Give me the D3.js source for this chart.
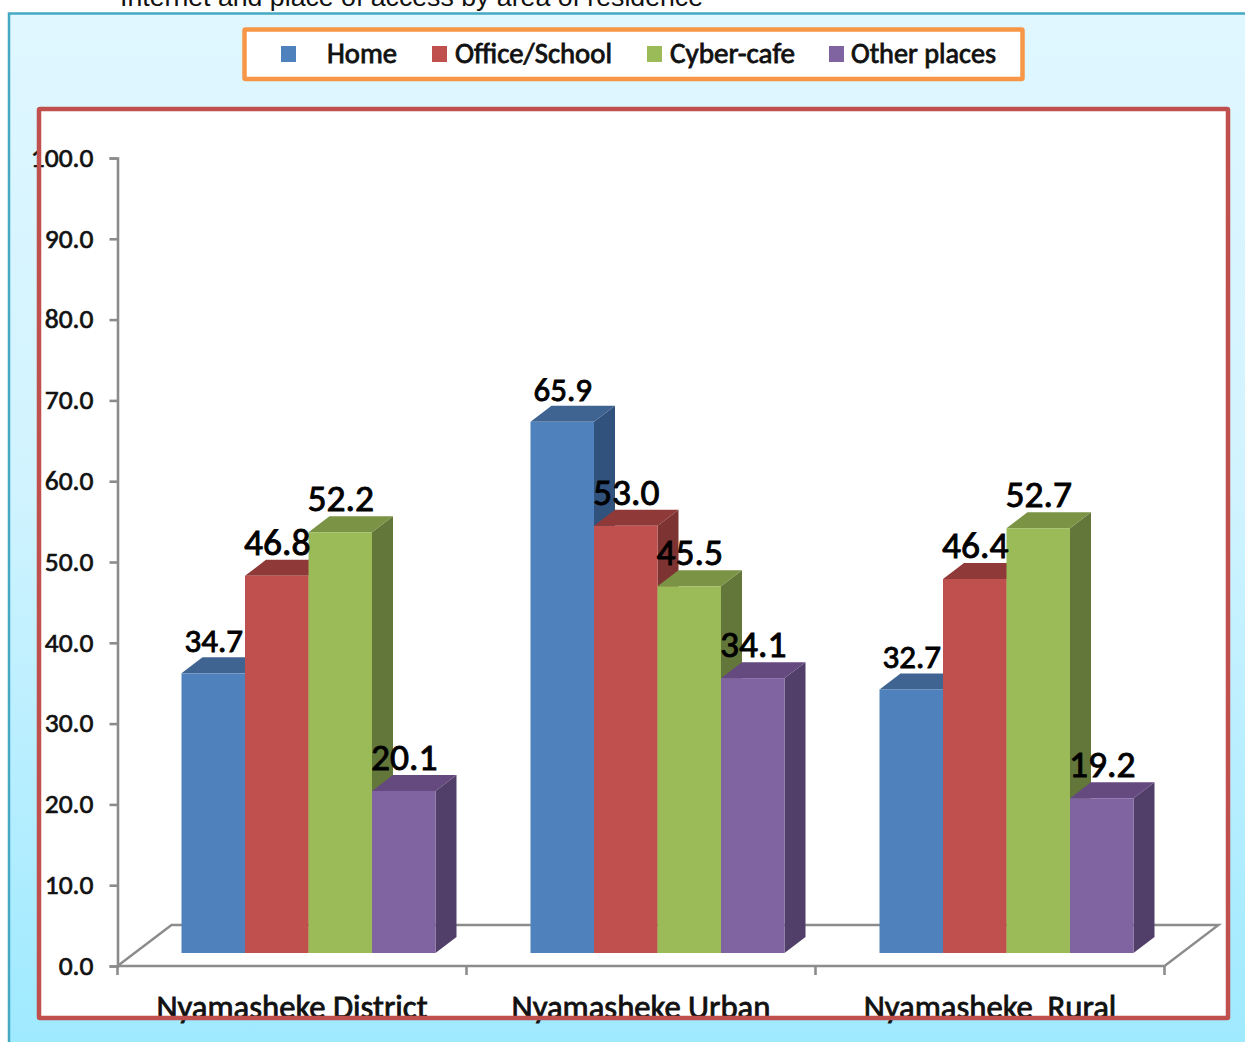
<!DOCTYPE html>
<html><head><meta charset="utf-8">
<script src="https://cdn.jsdelivr.net/npm/d3@7"></script>
<style>html,body{margin:0;padding:0;background:#fff;overflow:hidden}svg{display:block}</style>
</head><body><div id="c"></div>
<script>
const categories = ["Nyamasheke District", "Nyamasheke Urban", "Nyamasheke  Rural"];
const seriesNames = ["Home", "Office/School", "Cyber-cafe", "Other places"];
const homeValues = [34.7, 65.9, 32.7];
const officeValues = [46.8, 53.0, 46.4];
const cafeValues = [52.2, 45.5, 52.7];
const otherValues = [20.1, 34.1, 19.2];
const yTicks = [0,10,20,30,40,50,60,70,80,90,100];
const titleText = "Internet and place of access by area of residence";
const seriesValues = [homeValues, officeValues, cafeValues, otherValues];

const frontColors = ["#4f81bd","#c0504d","#9bbb59","#8064a2"];
const topColors   = ["#3f6491","#8f3a38","#7a9344","#644a7f"];
const sideColors  = ["#30527c","#7d3331","#64773a","#523f69"];
const font = "Carlito, Lato, 'Noto Sans', sans-serif";

const W = 1245, H = 1042;
const svg = d3.select("#c").append("svg").attr("width",W).attr("height",H);
const defs = svg.append("defs");
const grad = defs.append("linearGradient").attr("id","bg").attr("x1",0).attr("y1",0).attr("x2",0).attr("y2",1);
grad.append("stop").attr("offset","0%").attr("stop-color","#e0f7ff");
grad.append("stop").attr("offset","45%").attr("stop-color","#d0f3ff");
grad.append("stop").attr("offset","100%").attr("stop-color","#9ce9ff");

svg.append("text").attr("x",120).attr("y",6).attr("font-family","'Liberation Sans', Arial, sans-serif")
  .attr("font-size",26.7).attr("fill","#111").text(titleText);

svg.append("rect").attr("x",9).attr("y",13.5).attr("width",W+20).attr("height",H+20)
  .attr("fill","url(#bg)").attr("stroke","#45a9c4").attr("stroke-width",2.5);

svg.append("rect").attr("x",244.5).attr("y",29.5).attr("width",778).attr("height",49.5)
  .attr("fill","#fff").attr("stroke","#f79646").attr("stroke-width",4.5).attr("rx",1);

const legendSwatchX = [281,432,647,829];
const legendTextX = [327,455,670,851];
const legendTextLen = [70,157,125,145];
seriesNames.forEach((n,i)=>{
  svg.append("rect").attr("x",legendSwatchX[i]).attr("y",46).attr("width",15).attr("height",16).attr("fill",frontColors[i]);
  svg.append("text").attr("x",legendTextX[i]).attr("y",62.5).attr("font-family",font)
    .attr("font-size",28).attr("fill","#111").attr("stroke","#111").attr("stroke-width",0.8)
    .attr("textLength",legendTextLen[i]).attr("lengthAdjust","spacingAndGlyphs").text(n);
});

svg.append("rect").attr("x",39).attr("y",109).attr("width",1189).attr("height",909).attr("fill","#fff");

const y = d3.scaleLinear().domain([0,100]).range([966,158]);
const barY = d3.scaleLinear().domain([0,100]).range([953,147]);
const x0 = d3.scaleBand().domain(categories).range([117.5,1164.5]);
const x1 = d3.scaleBand().domain(seriesNames).range([0,254]);
const depthX = 21, depthY = 16;
const floorDX = 54, floorDY = 41;
const axisColor = "#8c8c8c";

svg.append("path")
  .attr("d",d3.line()([[x0.range()[0],y(0)],[x0.range()[0]+floorDX,y(0)-floorDY],[x0.range()[1]+floorDX,y(0)-floorDY],[x0.range()[1],y(0)]]))
  .attr("fill","none").attr("stroke",axisColor).attr("stroke-width",2.4);

const yAxis = d3.axisLeft(y).tickValues(yTicks).tickFormat(d3.format(".1f")).tickSize(8).tickPadding(16);
const yg = svg.append("g").attr("transform","translate(117.5,0)").call(yAxis);
yg.selectAll("path,line").attr("stroke",axisColor).attr("stroke-width",2.6);
yg.selectAll("text").attr("font-family",font).attr("font-size",27.5).attr("fill","#111")
  .attr("text-anchor","end").attr("dy","0.3em").attr("stroke","#111").attr("stroke-width",0.65);

const xg = svg.append("g").attr("transform",`translate(0,${y(0)})`);
xg.append("line").attr("x1",x0.range()[0]).attr("x2",x0.range()[1]).attr("stroke",axisColor).attr("stroke-width",2.6);
const boundaries = categories.map(c=>x0(c)).concat([x0.range()[1]]);
xg.selectAll("line.t").data(boundaries).join("line").attr("class","t").attr("x1",d=>d).attr("x2",d=>d).attr("y1",0).attr("y2",9)
  .attr("stroke",axisColor).attr("stroke-width",2.6);

const catG = svg.selectAll("g.cat").data(categories).join("g").attr("class","cat")
  .attr("transform",c=>`translate(${x0(c)+64},0)`);
catG.each(function(c,ci){
  const g = d3.select(this);
  seriesNames.forEach((s,si)=>{
    const v = seriesValues[si][ci];
    const xl = x1(s), w = x1.bandwidth(), t = barY(v), b = barY(0);
    g.append("path").attr("fill",sideColors[si])
      .attr("d",d3.line()([[xl+w,t],[xl+w+depthX,t-depthY],[xl+w+depthX,b-depthY],[xl+w,b]]));
    g.append("path").attr("fill",topColors[si])
      .attr("d",d3.line()([[xl,t],[xl+depthX,t-depthY],[xl+w+depthX,t-depthY],[xl+w,t]]));
    g.append("rect").attr("x",xl).attr("y",t).attr("width",w).attr("height",b-t).attr("fill",frontColors[si]);
  });
});
catG.each(function(c,ci){
  const g = d3.select(this);
  seriesNames.forEach((s,si)=>{
    const v = seriesValues[si][ci];
    g.append("text").attr("x",x1(s)+x1.bandwidth()/2+0.5).attr("y",barY(v)-21).attr("text-anchor","middle")
      .attr("font-family",font).attr("font-size",si===0?33:37.5).attr("fill","#000")
      .attr("stroke","#000").attr("stroke-width",0.9)
      .text(d3.format(".1f")(v));
  });
});

svg.selectAll("text.cl").data(categories).join("text").attr("class","cl")
  .attr("x",c=>x0(c)+x0.bandwidth()/2).attr("y",1018).attr("text-anchor","middle")
  .attr("font-family",font).attr("font-size",32.7).attr("fill","#111")
  .attr("stroke","#111").attr("stroke-width",0.8)
  .style("white-space","pre").text(c=>c);

svg.append("rect").attr("x",39).attr("y",109).attr("width",1189).attr("height",909)
  .attr("fill","none").attr("stroke","#c0504d").attr("stroke-width",4.5).attr("rx",1);
</script></body></html>
